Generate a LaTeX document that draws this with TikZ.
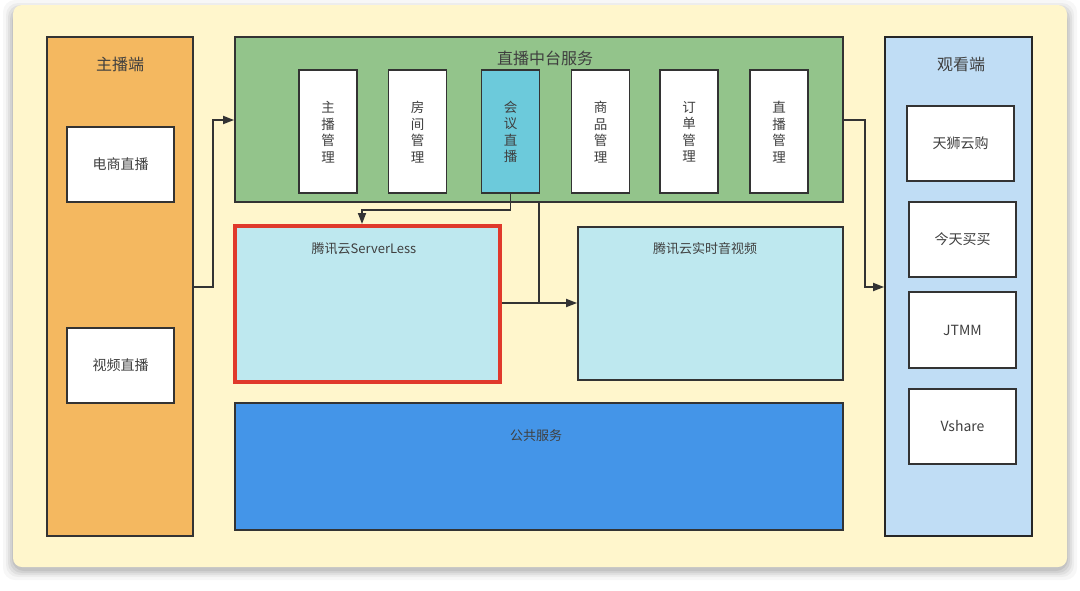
\documentclass[tikz,border=0pt]{standalone}
\usepackage{fontspec}
\setmainfont{Noto Sans CJK SC}
\usetikzlibrary{arrows.meta}
\definecolor{bgY}{HTML}{FFF6CC}
\definecolor{orangeF}{HTML}{F4B860}
\definecolor{greenF}{HTML}{93C48B}
\definecolor{cyanF}{HTML}{6CCADB}
\definecolor{lightC}{HTML}{BEE8EF}
\definecolor{blueF}{HTML}{4495E8}
\definecolor{lblue}{HTML}{C0DDF5}
\definecolor{lineC}{HTML}{333333}
\definecolor{redB}{HTML}{E0392B}
\definecolor{txt}{HTML}{3F3F3F}
\begin{document}
\begin{tikzpicture}[x=1pt,y=-1pt,
  box/.style={draw=lineC,line width=1.8pt},
  wbox/.style={box,fill=white},
  lbl/.style={text=txt,font=\fontsize{14}{16}\selectfont,inner sep=0pt},
  ttl/.style={text=txt,font=\fontsize{16}{18}\selectfont,inner sep=0pt},
  vlbl/.style={text=txt,font=\fontsize{13.5}{16.5}\selectfont,align=center,inner sep=0pt},
  conn/.style={draw=lineC,line width=1.8pt},
  arr/.style={conn,-{Triangle[length=11pt,width=8pt]}}]
\useasboundingbox (0,0) rectangle (1080,590);
\fill[white] (0,0) rectangle (1080,590);
% shadow
\foreach \d/\o in {10/0.03,7/0.04,5/0.05,3/0.06,1/0.07}{
  \fill[black,opacity=\o,rounded corners=12pt] (13-\d,7-\d+3) rectangle (1067+\d,567+\d+3);
}
\fill[bgY,rounded corners=9pt] (13,5) rectangle (1067,567);

% left column
\node[box,fill=orangeF,minimum width=146pt,minimum height=499pt,inner sep=0pt] (host) at (120,286.5) {};
\node[ttl] (hostT) at (120,64) {主播端};
\node[wbox,minimum width=107pt,minimum height=75pt,inner sep=0pt] (ec) at (120.5,164.5) {};
\node[lbl] at (ec) {电商直播};
\node[wbox,minimum width=107pt,minimum height=75pt,inner sep=0pt] (vd) at (120.5,365.5) {};
\node[lbl] at (vd) {视频直播};

% middle platform
\node[box,fill=greenF,minimum width=608pt,minimum height=165pt,inner sep=0pt] (mid) at (539,119.5) {};
\node[ttl] (midT) at (545,58) {直播中台服务};
\foreach \n/\x/\t/\c in {m1/328/主\\播\\管\\理/white, m2/417.5/房\\间\\管\\理/white, m3/510.5/会\\议\\直\\播/cyanF, m4/600.5/商\\品\\管\\理/white, m5/689/订\\单\\管\\理/white, m6/779/直\\播\\管\\理/white}{
  \node[box,fill=\c,minimum width=58pt,minimum height=123pt,inner sep=0pt] (\n) at (\x,131.5) {};
  \node[vlbl] at (\x,132) {\t};
}

% serverless
\node[draw=redB,line width=4pt,fill=lightC,minimum width=265pt,minimum height=156pt,inner sep=0pt] (sl) at (367.5,304) {};
\node[lbl,font=\fontsize{13}{15}\selectfont] at (364,249) {腾讯云ServerLess};
\node[box,fill=lightC,minimum width=265pt,minimum height=153pt,inner sep=0pt] (rt) at (710.5,303.5) {};
\node[lbl,font=\fontsize{13}{15}\selectfont] at (705,249) {腾讯云实时音视频};

% public
\node[box,fill=blueF,minimum width=608pt,minimum height=127pt,inner sep=0pt] (pub) at (539,466.5) {};
\node[lbl,font=\fontsize{13}{15}\selectfont] at (536,436) {公共服务};

% right column
\node[draw=black!85,line width=1.8pt,fill=lblue,minimum width=147pt,minimum height=499pt,inner sep=0pt] (view) at (958.5,286.5) {};
\node[ttl] at (961,64) {观看端};
\node[wbox,minimum width=107pt,minimum height=75pt,inner sep=0pt] (v1) at (960.5,143.5) {};
\node[lbl] at (v1) {天狮云购};
\node[wbox,minimum width=107pt,minimum height=75pt,inner sep=0pt] (v2) at (962.5,239.5) {};
\node[lbl] at (v2) {今天买买};
\node[wbox,minimum width=107pt,minimum height=76pt,inner sep=0pt] (v3) at (962.5,330) {};
\node[lbl] at (v3) {JTMM};
\node[wbox,minimum width=107pt,minimum height=75pt,inner sep=0pt] (v4) at (962.5,426.5) {};
\node[lbl] at (v4) {Vshare};

% connectors
\coordinate (c1) at (213,287);
\coordinate (c2) at (213,120);
\draw[arr] (host.east |- c1) -- (c1) -- (c2) -- (mid.west |- c2);
\coordinate (c3) at (510.5,210);
\coordinate (c4) at (362,210);
\draw[arr] (m3.south) -- (c3) -- (c4) -- (c4 |- sl.north);
\coordinate (c5) at (539,303);
\draw[arr] (sl.east |- c5) -- (rt.west |- c5);
\draw[conn] (c5 |- mid.south) -- (c5);
\coordinate (c6) at (865,120);
\coordinate (c7) at (865,287);
\draw[arr] (mid.east |- c6) -- (c6) -- (c7) -- (view.west |- c7);
\end{tikzpicture}
\end{document}
